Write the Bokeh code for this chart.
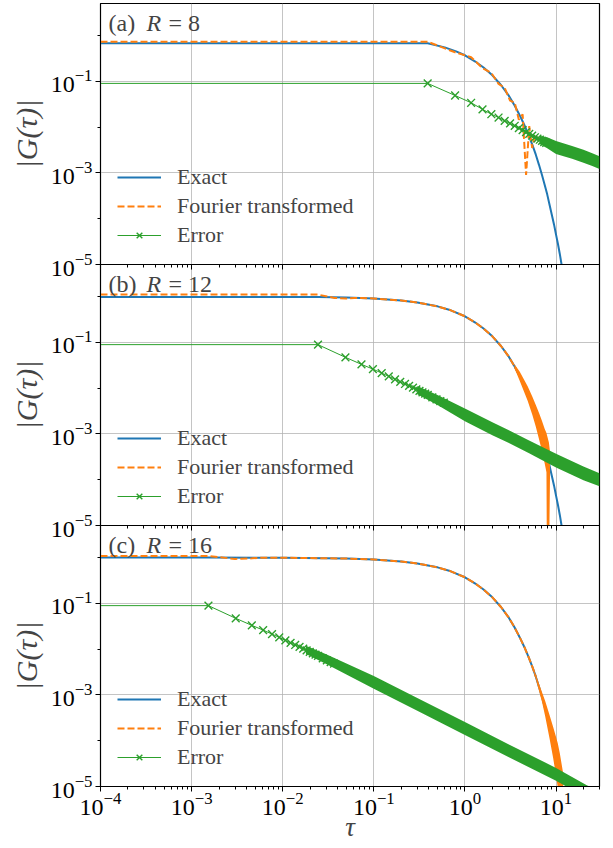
from bokeh.plotting import figure
from bokeh.models import (Range1d, FixedTicker, LogAxis, Legend, LegendItem, Label)
from bokeh.layouts import column
from bokeh.embed import file_html
from bokeh.resources import INLINE

BLUE = "#1f77b4"
ORANGE = "#ff7f0e"
GREEN = "#2ca02c"
FONT = "Liberation Serif"

# ---------------- axis ticks ----------------
x_major = [1e-4, 1e-3, 1e-2, 1e-1, 1e0, 1e1]
x_minor = [m * d for d in [1e-4, 1e-3, 1e-2, 1e-1, 1e0, 1e1] for m in range(2, 10) if m * d <= 30]
y_major = [1e-5, 1e-3, 1e-1]
y_minor = [1e-4, 1e-2, 1e0]

# ---------------- panel (a): R = 8 ----------------
a_exact_tau = [1e-4, 0.39, 0.6, 0.8, 1.0, 1.3, 1.6, 2.0, 2.5, 3.0, 3.5, 4.0, 4.5, 5.0, 5.5, 6.0,
               6.5, 7.0, 7.5, 8.0, 8.5, 9.0, 9.5, 10.0, 10.5, 11.0, 11.5, 12.0]
a_exact = [0.68, 0.68, 0.55, 0.45, 0.37, 0.27, 0.2, 0.135, 0.082, 0.05, 0.03, 0.018, 0.011, 0.0067,
           0.0041, 0.0025, 0.0015, 9.1e-4, 5.5e-4, 3.4e-4, 2.0e-4, 1.2e-4, 7.5e-5, 4.5e-5, 2.8e-5,
           1.7e-5, 1.0e-5, 6e-6]
a_ft_tau = [1e-4, 0.39, 0.78, 1.17, 1.56, 1.95, 2.34, 2.73, 3.13, 3.52, 3.91, 4.30, 4.69, 5.08,
            5.47, 5.86, 6.25]
a_ft = [0.73, 0.73, 0.43, 0.335, 0.195, 0.152, 0.088, 0.072, 0.038, 0.034, 0.0145, 0.019, 0.0009,
        0.0105, 0.0035, 0.0068, 0.0057]
a_ftband_tau = []
a_ftband_hi = []
a_ftband_lo = []
a_err_tau = [1e-4, 0.39, 0.78, 1.17, 1.56, 1.95, 2.34, 2.73, 3.13, 3.52, 3.91, 4.30, 4.69, 5.08,
             5.47, 5.86, 6.25, 6.64, 7.03, 7.42, 7.81]
a_err = [0.09, 0.09, 0.049, 0.034, 0.0245, 0.0191, 0.0162, 0.0137, 0.012, 0.0107, 0.0095, 0.0086,
         0.0078, 0.0071, 0.0065, 0.006, 0.0056, 0.0053, 0.005, 0.0047, 0.0045]
a_errband_tau = [6.6, 8.0, 10.0, 15.0, 20.0, 25.0, 30.0]
a_errband_hi = [6.5e-3, 6.0e-3, 5.0e-3, 3.85e-3, 3.2e-3, 2.7e-3, 2.3e-3]
a_errband_lo = [4.3e-3, 3.45e-3, 2.6e-3, 2.03e-3, 1.67e-3, 1.41e-3, 1.22e-3]

# ---------------- panel (b): R = 12 ----------------
b_exact_tau = [1e-4, 0.0244, 0.05, 0.1, 0.2, 0.3, 0.5, 0.7, 1.0, 1.3, 1.6, 2.0, 2.5, 3.0, 3.5,
               4.0, 4.5, 5.0, 5.5, 6.0, 6.5, 7.0, 7.5, 8.0, 8.5, 9.0, 9.5, 10.0, 10.5, 11.0, 11.5, 12.0]
b_exact = [0.976, 0.976, 0.95, 0.905, 0.82, 0.74, 0.61, 0.5, 0.37, 0.27, 0.2, 0.135, 0.082, 0.05,
           0.03, 0.018, 0.011, 0.0067, 0.0041, 0.0025, 0.0015, 9.1e-4, 5.5e-4, 3.4e-4, 2.0e-4,
           1.2e-4, 7.5e-5, 4.5e-5, 2.8e-5, 1.7e-5, 1.0e-5, 6e-6]
b_ft_tau = [1e-4, 0.0244, 0.037, 0.049, 0.061, 0.073, 0.1, 0.2, 0.3, 0.5, 0.7, 1.0, 1.3, 1.6, 2.0,
            2.5, 3.0, 3.5, 4.0]
b_ft = [1.1, 1.1, 0.93, 0.9, 0.93, 0.93, 0.905, 0.82, 0.74, 0.61, 0.5, 0.37, 0.27, 0.2, 0.135,
        0.082, 0.05, 0.03, 0.018]
b_ftband_tau = [3.5, 4.0, 4.88, 5.5, 6.0, 6.54, 7.0, 7.5, 7.85, 7.95, 8.35, 8.6]
b_ftband_hi = [0.033, 0.0227, 0.011, 0.0065, 0.0043, 2.8e-3, 1.94e-3, 1.3e-3, 1.05e-3, 9.5e-4,
               6.5e-4, 4e-4]
b_ftband_lo = [0.027, 0.0143, 0.0053, 0.0026, 0.00144, 7.4e-4, 4.3e-4, 2.3e-4, 1.45e-4, 1e-6,
               1e-6, 1.5e-4]
b_err_tau = [1e-4, 0.0244, 0.0488, 0.0732, 0.0977, 0.122, 0.146, 0.171, 0.195, 0.220, 0.244,
             0.269, 0.293, 0.317, 0.342, 0.366, 0.391, 0.439, 0.488, 0.537, 0.586]
b_err = [0.089, 0.089, 0.047, 0.033, 0.026, 0.0213, 0.018, 0.0155, 0.0137, 0.0123, 0.0112, 0.0102,
         0.0094, 0.0087, 0.0081, 0.0076, 0.0071, 0.0063, 0.0057, 0.0052, 0.0048]
b_errband_tau = [0.3, 0.5, 1.0, 2.0, 3.0, 5.0, 10.0, 20.0, 30.0]
b_errband_hi = [0.0111, 0.0071, 3.6e-3, 1.8e-3, 1.21e-3, 7.3e-4, 3.67e-4, 1.93e-4, 1.38e-4]
b_errband_lo = [7.3e-3, 4.3e-3, 1.88e-3, 9.4e-4, 6.4e-4, 3.84e-4, 1.84e-4, 9.7e-5, 7.2e-5]

# ---------------- panel (c): R = 16 ----------------
c_exact_tau = [1e-4, 0.0015, 0.01, 0.05, 0.1, 0.2, 0.3, 0.5, 0.7, 1.0, 1.3, 1.6, 2.0, 2.5, 3.0,
               3.5, 4.0, 4.5, 5.0, 5.5, 6.0, 6.5, 7.0, 7.5, 8.0, 8.5, 9.0, 9.5, 10.0, 10.5, 11.0,
               11.5, 12.0]
c_exact = [0.998, 0.998, 0.99, 0.95, 0.905, 0.82, 0.74, 0.61, 0.5, 0.37, 0.27, 0.2, 0.135, 0.082,
           0.05, 0.03, 0.018, 0.011, 0.0067, 0.0041, 0.0025, 0.0015, 9.1e-4, 5.5e-4, 3.4e-4,
           2.0e-4, 1.2e-4, 7.5e-5, 4.5e-5, 2.8e-5, 1.7e-5, 1.0e-5, 6e-6]
c_ft_tau = [1e-4, 0.0015, 0.003, 0.0046, 0.0061, 0.01, 0.05, 0.1, 0.2, 0.3, 0.5, 0.7, 1.0, 1.3, 1.6,
            2.0, 2.5, 3.0, 3.5, 4.0, 4.5, 5.0, 5.5, 6.0]
c_ft = [1.08, 1.08, 0.93, 0.96, 0.99, 0.99, 0.95, 0.905, 0.82, 0.74, 0.61, 0.5, 0.37, 0.27, 0.2,
        0.135, 0.082, 0.05, 0.03, 0.018, 0.011, 0.0067, 0.0041, 0.0025]
c_ftband_tau = [5.5, 6.0, 7.0, 7.6, 8.5, 9.3, 10.0, 10.45, 11.0, 12.0]
c_ftband_hi = [0.0043, 2.8e-3, 1.15e-3, 7.4e-4, 3.6e-4, 2.0e-4, 1.2e-4, 8.8e-5, 5.3e-5, 1.9e-5]
c_ftband_lo = [0.0039, 2.2e-3, 7.2e-4, 3.4e-4, 1.1e-4, 4.2e-5, 1.7e-5, 9.6e-6, 5.3e-6, 2e-6]
c_err_tau = [1e-4, 0.00153, 0.00305, 0.00458, 0.0061, 0.00763, 0.00916, 0.0107, 0.0122, 0.0137,
             0.0153, 0.0168, 0.0183, 0.0198, 0.0214, 0.0229, 0.0244, 0.0275, 0.0305, 0.0336, 0.0366]
c_err = [0.089, 0.089, 0.047, 0.033, 0.026, 0.0213, 0.018, 0.0155, 0.0137, 0.0123, 0.0112, 0.0102,
         0.0094, 0.0087, 0.0081, 0.0076, 0.0071, 0.0063, 0.0057, 0.0052, 0.0048]
c_errband_tau = [0.018, 0.03, 0.1, 0.3, 1.0, 3.0, 10.0, 22.0, 30.0]
c_errband_hi = [0.0118, 7.7e-3, 2.6e-3, 8.6e-4, 2.55e-4, 8.4e-5, 2.55e-5, 1.05e-5, 8.3e-6]
c_errband_lo = [7.8e-3, 4.7e-3, 1.36e-3, 4.5e-4, 1.34e-4, 4.4e-5, 1.34e-5, 5.5e-6, 4.3e-6]

panel_tags = ["(a)", "(b)", "(c)"]
panel_R = ["8", "12", "16"]

XR = Range1d(1e-4, 30)
FRAME_W, FRAME_H = 499, 261
OVER = 18


def build(i, ex_t, ex_v, ft_t, ft_v, fb_t, fb_hi, fb_lo, er_t, er_v, eb_t, eb_hi, eb_lo):
    bottom = (i == 2)
    p = figure(x_axis_type="log", y_axis_type="log", x_range=XR, y_range=Range1d(1e-5, 5),
               frame_width=FRAME_W, frame_height=FRAME_H, output_backend="svg",
               toolbar_location=None, x_axis_location="below" if bottom else None,
               min_border_left=100, min_border_right=6, min_border_top=3 if i == 0 else 0,
               min_border_bottom=0 if bottom else OVER)
    if i > 0:
        p.margin = (-OVER, 0, 0, 0)
    p.border_fill_alpha = 0
    p.background_fill_color = "white"
    p.outline_line_color = "black"
    p.outline_line_width = 1.2
    p.outline_line_alpha = 1.0

    # grids
    p.xgrid.ticker = FixedTicker(ticks=x_major)
    p.ygrid.ticker = FixedTicker(ticks=y_major)
    for g in (p.xgrid, p.ygrid):
        g.grid_line_color = "#b0b0b0"
        g.grid_line_width = 1
        g.grid_line_alpha = 0.75

    # y axis
    yax = p.yaxis[0]
    yax.ticker = FixedTicker(ticks=y_major, minor_ticks=y_minor)
    yax.major_tick_out = 5
    yax.major_tick_in = 0
    yax.minor_tick_out = 3
    yax.minor_tick_in = 0
    yax.axis_line_color = "black"
    yax.major_label_text_font = FONT
    yax.major_label_text_font_size = "24px"
    yax.major_label_text_color = "black"
    yax.major_label_standoff = 3
    yax.axis_label = "|G(τ)|"
    yax.axis_label_text_font = FONT
    yax.axis_label_text_font_style = "italic"
    yax.axis_label_text_font_size = "30px"
    yax.axis_label_standoff = 5

    if bottom:
        xax = p.xaxis[0]
        xax.ticker = FixedTicker(ticks=x_major, minor_ticks=x_minor)
        xax.major_tick_out = 5
        xax.major_tick_in = 0
        xax.minor_tick_out = 3
        xax.minor_tick_in = 0
        xax.axis_line_color = "black"
        xax.major_label_text_font = FONT
        xax.major_label_text_font_size = "24px"
        xax.major_label_text_color = "black"
        xax.major_label_standoff = 1
        xax.axis_label = "τ"
        xax.axis_label_text_font = FONT
        xax.axis_label_text_font_style = "italic"
        xax.axis_label_text_font_size = "27px"
        xax.axis_label_standoff = -6
    if i > 0:
        top = LogAxis(ticker=FixedTicker(ticks=x_major, minor_ticks=x_minor),
                      major_tick_in=5, major_tick_out=0, minor_tick_in=3, minor_tick_out=0,
                      major_label_text_font_size="1px", major_label_text_alpha=0,
                      major_label_standoff=0, axis_line_color="black")
        p.add_layout(top, "above")

    # data
    r_exact = p.line(ex_t, ex_v, line_color=BLUE, line_width=2)
    if fb_t:
        p.varea(x=fb_t, y1=fb_lo, y2=fb_hi, fill_color=ORANGE, fill_alpha=1.0)
    r_ft = p.line(ft_t, ft_v, line_color=ORANGE, line_width=2, line_dash="7 3")
    r_eline = p.line(er_t, er_v, line_color=GREEN, line_width=1)
    p.varea(x=eb_t, y1=eb_lo, y2=eb_hi, fill_color=GREEN, fill_alpha=1.0)
    r_emark = p.scatter(er_t[1:], er_v[1:], marker="x", size=11, line_color=GREEN, line_width=1.4)

    legend = Legend(items=[LegendItem(label="Exact", renderers=[r_exact]),
                           LegendItem(label="Fourier transformed", renderers=[r_ft]),
                           LegendItem(label="Error", renderers=[r_eline, r_emark])],
                    location=(17, 16), orientation="vertical",
                    background_fill_alpha=0, border_line_alpha=0, padding=0, margin=0,
                    spacing=3, glyph_width=44, glyph_height=20, label_height=20,
                    label_standoff=16, label_text_font=FONT, label_text_font_size="22px")
    p.add_layout(legend)

    # panel label
    p.add_layout(Label(x=1e-4, y=1.85, x_offset=8, text=panel_tags[i], text_font=FONT,
                       text_font_size="24px", text_baseline="middle"))
    p.add_layout(Label(x=1e-4, y=1.85, x_offset=46, text="R", text_font=FONT,
                       text_font_style="italic", text_font_size="24px", text_baseline="middle"))
    p.add_layout(Label(x=1e-4, y=1.85, x_offset=68, text="= " + panel_R[i], text_font=FONT,
                       text_font_size="24px", text_baseline="middle"))
    return p


pa = build(0, a_exact_tau, a_exact, a_ft_tau, a_ft, a_ftband_tau, a_ftband_hi, a_ftband_lo,
           a_err_tau, a_err, a_errband_tau, a_errband_hi, a_errband_lo)
pb = build(1, b_exact_tau, b_exact, b_ft_tau, b_ft, b_ftband_tau, b_ftband_hi, b_ftband_lo,
           b_err_tau, b_err, b_errband_tau, b_errband_hi, b_errband_lo)
pc = build(2, c_exact_tau, c_exact, c_ft_tau, c_ft, c_ftband_tau, c_ftband_hi, c_ftband_lo,
           c_err_tau, c_err, c_errband_tau, c_errband_hi, c_errband_lo)

layout = column(pa, pb, pc, spacing=0)
open("out.html", "w").write(file_html(layout, INLINE))
